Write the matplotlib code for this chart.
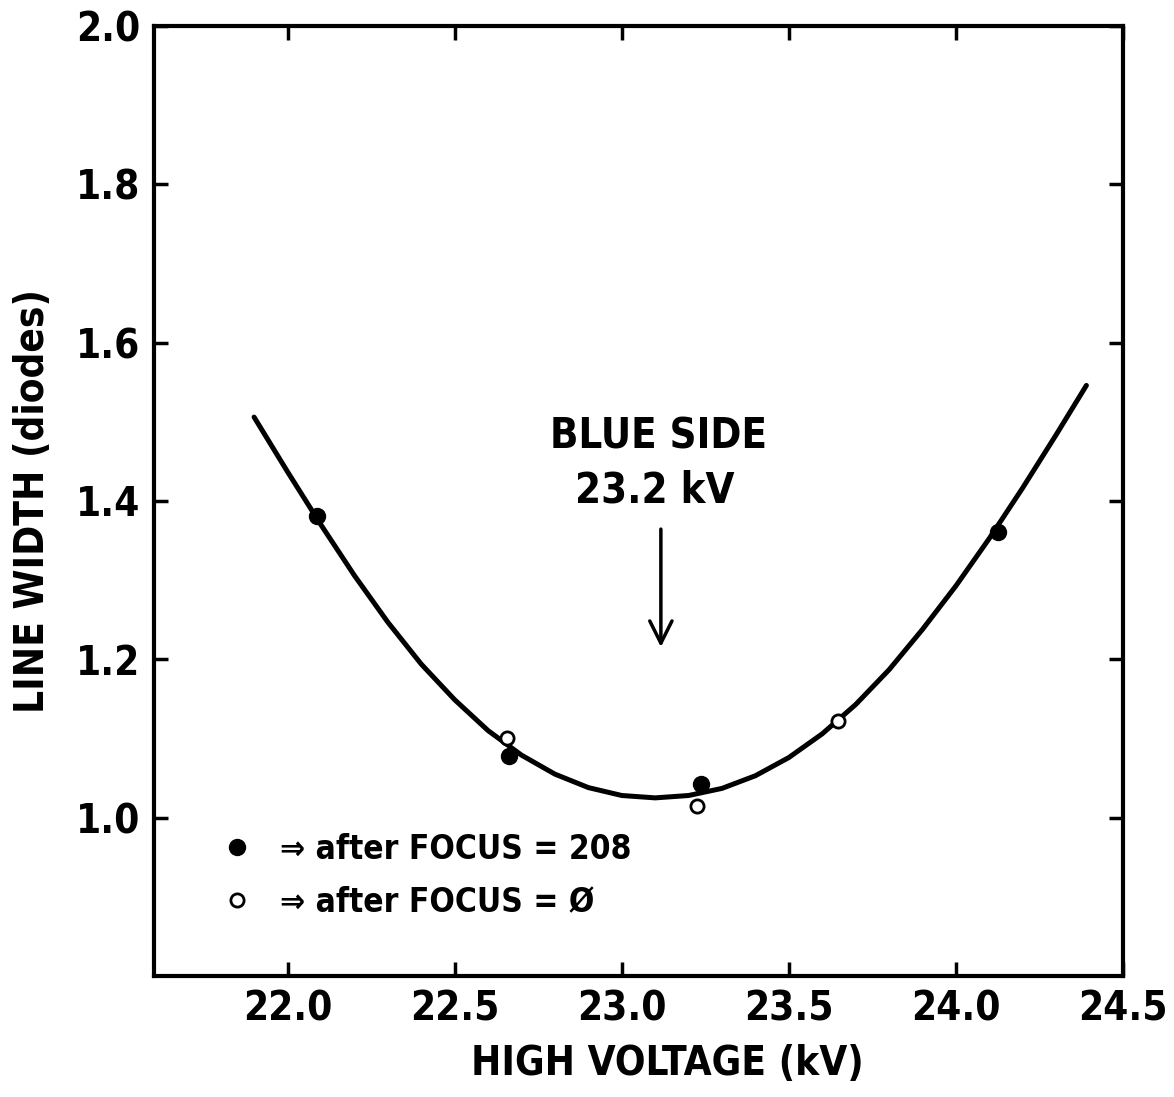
import matplotlib
matplotlib.use("Agg")
import matplotlib.pyplot as plt

# fitted curve
curve_kv = [21.90, 22.00, 22.10, 22.20, 22.30, 22.40, 22.50, 22.60, 22.70,
            22.80, 22.90, 23.00, 23.10, 23.20, 23.30, 23.40, 23.50, 23.60,
            23.70, 23.80, 23.90, 24.00, 24.10, 24.20, 24.30, 24.39]
curve_width = [1.506, 1.437, 1.370, 1.306, 1.247, 1.194, 1.149, 1.110, 1.079,
               1.055, 1.038, 1.028, 1.025, 1.028, 1.037, 1.053, 1.076, 1.106,
               1.143, 1.187, 1.238, 1.293, 1.353, 1.417, 1.484, 1.546]

# measured points
focus208_kv = [22.087, 22.662, 23.237, 24.126]
focus208_width = [1.381, 1.078, 1.042, 1.361]
focus0_kv = [22.656, 23.225, 23.647]
focus0_width = [1.101, 1.015, 1.122]

x_ticks = [22.0, 22.5, 23.0, 23.5, 24.0, 24.5]
y_ticks = [1.0, 1.2, 1.4, 1.6, 1.8, 2.0]

plt.rcParams['font.family'] = ['DejaVu Sans']
plt.rcParams['font.stretch'] = 'condensed'

fig = plt.figure(figsize=(11.74, 10.97), dpi=100)
ax = fig.add_axes([0.131, 0.1103, 0.8257, 0.866])

ax.plot(curve_kv, curve_width, color='black', linewidth=3.6,
        solid_capstyle='round', solid_joinstyle='round', zorder=2)
ax.plot(focus208_kv, focus208_width, 'o', color='black', markersize=11.5,
        zorder=3, label='\u21d2 after FOCUS = 208')
ax.plot(focus0_kv, focus0_width, 'o', markerfacecolor='white',
        markeredgecolor='black', markersize=9.5, markeredgewidth=2.0,
        zorder=3, label='\u21d2 after FOCUS = \u00d8')

# annotation
ax.text(23.11, 1.482, 'BLUE SIDE', ha='center', va='center', fontsize=30,
        fontweight='bold')
ax.text(23.10, 1.413, '23.2 kV', ha='center', va='center', fontsize=30,
        fontweight='bold')
ax.annotate('', xy=(23.117, 1.212), xytext=(23.117, 1.368),
            arrowprops=dict(arrowstyle='->', color='black', lw=2.5,
                            mutation_scale=40))

ax.set_xlim(21.6, 24.5)
ax.set_ylim(0.8, 2.0)
ax.set_xticks(x_ticks)
ax.set_xticklabels([f'{v:.1f}' for v in x_ticks])
ax.set_yticks(y_ticks)
ax.set_yticklabels([f'{v:.1f}' for v in y_ticks])

ax.tick_params(direction='in', length=10, width=2.5, top=True, right=True,
               labelsize=29, pad=10)
for lab in ax.get_xticklabels() + ax.get_yticklabels():
    lab.set_fontweight('bold')
for sp in ax.spines.values():
    sp.set_linewidth(3)

ax.set_xlabel('HIGH VOLTAGE (kV)', fontsize=29, fontweight='bold')
ax.xaxis.set_label_coords(0.53, -0.072)
ax.set_ylabel('LINE WIDTH (diodes)', fontsize=29, fontweight='bold')
ax.yaxis.set_label_coords(-0.104, 0.5)

leg = ax.legend(loc='upper left', bbox_to_anchor=(0.055, 0.165), frameon=False,
                fontsize=24, handlelength=1.0, handletextpad=0.8,
                labelspacing=0.6, borderaxespad=0)
for t in leg.get_texts():
    t.set_fontweight('bold')

fig.savefig('out.png', dpi=100)
